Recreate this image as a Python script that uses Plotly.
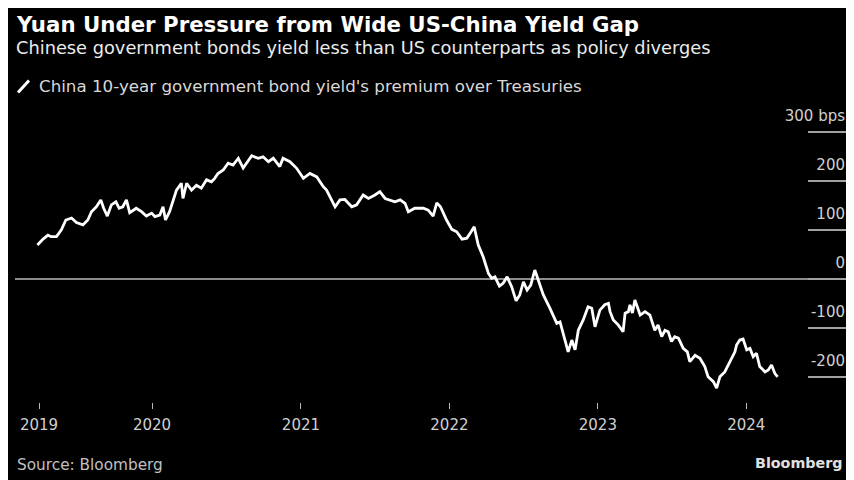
import plotly.graph_objects as go

# ---- data ----
dates = [
    "2019-03-25","2019-04-01","2019-04-08","2019-04-20","2019-04-28","2019-05-11","2019-05-23","2019-06-03","2019-06-17","2019-06-29",
    "2019-07-15","2019-07-27","2019-08-05","2019-08-17","2019-08-28","2019-09-04","2019-09-13","2019-09-23","2019-10-04","2019-10-12",
    "2019-10-21","2019-10-30","2019-11-07","2019-11-23","2019-12-06","2019-12-18","2019-12-31","2020-01-08","2020-01-20","2020-01-28",
    "2020-02-03","2020-02-13","2020-03-01","2020-03-13","2020-03-17","2020-03-26","2020-04-07","2020-04-19","2020-05-01","2020-05-14",
    "2020-05-26","2020-06-03","2020-06-11","2020-06-24","2020-07-06","2020-07-18","2020-07-31","2020-08-12","2020-09-02","2020-09-18",
    "2020-09-30","2020-10-13","2020-10-25","2020-11-10","2020-11-18","2020-12-05","2020-12-21","2021-01-07","2021-01-23","2021-02-09",
    "2021-02-25","2021-03-05","2021-03-26","2021-04-07","2021-04-19","2021-05-06","2021-05-18","2021-06-03","2021-06-16","2021-07-02",
    "2021-07-14","2021-07-27","2021-08-08","2021-08-20","2021-09-02","2021-09-14","2021-09-22","2021-10-08","2021-10-29","2021-11-10",
    "2021-11-22","2021-12-01","2021-12-10","2021-12-25","2022-01-07","2022-01-19","2022-02-01","2022-02-13","2022-02-21","2022-03-03",
    "2022-03-13","2022-03-25","2022-04-07","2022-04-15","2022-04-23","2022-05-04","2022-05-13","2022-05-23","2022-06-03","2022-06-14",
    "2022-06-23","2022-07-02","2022-07-11","2022-07-20","2022-07-30","2022-08-07","2022-08-20","2022-09-05","2022-09-22","2022-09-30",
    "2022-10-12","2022-10-20","2022-10-29","2022-11-06","2022-11-14","2022-11-26","2022-12-08","2022-12-17","2022-12-25","2023-01-06",
    "2023-01-18","2023-01-27","2023-01-31","2023-02-08","2023-02-20","2023-03-04","2023-03-09","2023-03-17","2023-03-21","2023-03-27",
    "2023-04-02","2023-04-15","2023-04-27","2023-05-09","2023-05-21","2023-05-29","2023-06-07","2023-06-15","2023-06-23","2023-07-01",
    "2023-07-09","2023-07-18","2023-07-30","2023-08-09","2023-08-15","2023-08-28","2023-09-09","2023-09-21","2023-09-29","2023-10-12",
    "2023-10-20","2023-10-28","2023-11-09","2023-11-22","2023-12-04","2023-12-08","2023-12-16","2023-12-24","2024-01-02","2024-01-10",
    "2024-01-18","2024-01-26","2024-02-03","2024-02-16","2024-02-24","2024-03-03","2024-03-11","2024-03-18",
]
premium_bps = [
    70, 77, 82, 90, 87, 87, 101, 121, 125, 116,
    111, 121, 138, 148, 162, 145, 129, 152, 158, 145,
    148, 162, 136, 145, 138, 129, 135, 128, 131, 148,
    121, 138, 182, 196, 165, 196, 182, 192, 186, 203,
    199, 206, 216, 223, 237, 233, 247, 227, 252, 247,
    250, 240, 247, 230, 247, 240, 227, 206, 216, 209,
    189, 182, 148, 162, 163, 148, 152, 172, 165, 172,
    179, 165, 162, 158, 162, 155, 138, 145, 145, 141,
    129, 156, 148, 121, 102, 97, 82, 84, 94, 107,
    70, 46, 12, 2, 5, -14, -8, 5, -15, -44,
    -32, -5, -22, -12, 19, -1, -32, -59, -90, -87,
    -124, -148, -124, -144, -104, -83, -56, -59, -97, -63,
    -52, -49, -66, -83, -93, -107, -69, -66, -52, -69,
    -42, -73, -66, -73, -104, -93, -117, -104, -107, -127,
    -117, -120, -141, -148, -168, -155, -161, -178, -199, -209,
    -222, -199, -189, -168, -148, -134, -124, -122, -144, -141,
    -158, -151, -178, -189, -185, -175, -192, -199,
]
x_tick_dates = ["2019-03-29", "2020-01-01", "2021-01-01", "2022-01-01", "2023-01-01", "2024-01-01"]
x_tick_labels = ["2019", "2020", "2021", "2022", "2023", "2024"]
y_tick_values = [300, 200, 100, 0, -100, -200]
y_tick_labels = ["300 bps", "200", "100", "0", "-100", "-200"]

title = "Yuan Under Pressure from Wide US-China Yield Gap"
subtitle = "Chinese government bonds yield less than US counterparts as policy diverges"
series_name = "China 10-year government bond yield's premium over Treasuries"
source = "Source: Bloomberg"
brand = "Bloomberg"

# ---- layout geometry ----
W, H = 854, 480
OFF = 8                      # page body margin offset
ML, MR, MT, MB = 7, 14, 97, 86
PW, PH = W - ML - MR, H - MT - MB
FONT = "DejaVu Sans"


def px(xr):
    """screen x (as in the picture) -> paper x"""
    return (xr - OFF - ML) / PW


def py(yr):
    """screen y (as in the picture) -> paper y"""
    return (H - MB - (yr - OFF)) / PH


fig = go.Figure()
fig.add_trace(go.Scatter(
    x=dates, y=premium_bps, mode="lines", name=series_name,
    line=dict(color="white", width=2.8), showlegend=False, hoverinfo="skip",
))

fig.update_layout(
    width=W, height=H,
    margin=dict(l=ML, r=MR, t=MT, b=MB, pad=0),
    paper_bgcolor="black", plot_bgcolor="black",
    font=dict(family=FONT, color="#d0d0d0"),
    xaxis=dict(
        type="date", range=["2019-01-29", "2024-09-07"],
        tickvals=x_tick_dates, ticktext=x_tick_labels,
        ticks="outside", ticklen=6, tickwidth=1, tickcolor="#bbbbbb",
        ticklabelstandoff=3,
        showgrid=False, zeroline=False, showline=False,
        tickfont=dict(family=FONT, size=15, color="#d0d0d0"),
    ),
    yaxis=dict(
        range=[-250.4, 355.7], side="right",
        tickvals=y_tick_values, ticktext=y_tick_labels,
        ticks="inside", ticklen=40, tickwidth=1.5, tickcolor="#a0a0a0",
        ticklabelposition="inside top", ticklabelshift=-5,
        showgrid=False, showline=False,
        zeroline=True, zerolinecolor="#8c8c8c", zerolinewidth=1.5,
        tickfont=dict(family=FONT, size=15, color="#d0d0d0"),
    ),
)

# legend marker (slash)
fig.add_shape(type="line", xref="paper", yref="paper", x0=px(18), y0=py(92.5), x1=px(29), y1=py(80.5),
              line=dict(color="white", width=3))

annos = [
    dict(text=f"<b>{title}</b>", x=px(14), y=py(25), size=21.3, color="white", xanchor="left"),
    dict(text=subtitle, x=px(14), y=py(47), size=17.8, color="#ececec", xanchor="left"),
    dict(text=series_name, x=px(37), y=py(86), size=16.7, color="#d8d8d8", xanchor="left"),
    dict(text=source, x=px(15), y=py(465), size=15.3, color="#c0c0c0", xanchor="left"),
    dict(text=f"<b>{brand}</b>", x=px(845), y=py(463), size=14.3, color="#e0e0e0", xanchor="right"),
]
for a in annos:
    fig.add_annotation(
        text=a["text"], x=a["x"], y=a["y"], xref="paper", yref="paper",
        xanchor=a["xanchor"], yanchor="middle", showarrow=False,
        font=dict(family=FONT, size=a["size"], color=a["color"]),
    )

fig.write_html("out.html")
